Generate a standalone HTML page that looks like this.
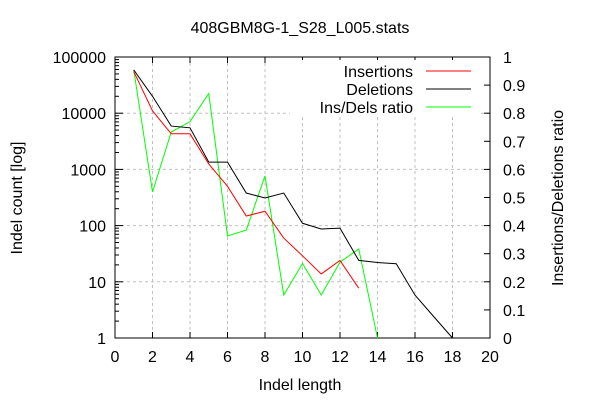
<!DOCTYPE html>
<html><head><meta charset="utf-8"><style>
body{margin:0;background:#fff}
svg{display:block;font-family:"Liberation Sans",sans-serif;font-size:16px}
</style></head><body>
<svg id="chart" width="600" height="400" viewBox="0 0 600 400">
<g id="grid"></g>
<g id="axes"></g>
<g id="series"></g>
<rect x="290" y="60" width="190" height="56" fill="#fff"/>
<text x="300" y="33" text-anchor="middle">408GBM8G-1_S28_L005.stats</text>
<text x="300" y="390" text-anchor="middle">Indel length</text>
<text transform="translate(22,198) rotate(-90)" text-anchor="middle">Indel count [log]</text>
<text transform="translate(563,198) rotate(-90)" text-anchor="middle">Insertions/Deletions ratio</text>
<g>
<g><text x="413" y="77" text-anchor="end">Insertions</text><line x1="426" y1="71" x2="471" y2="71" stroke="#f00"/></g>
<g><text x="413" y="95" text-anchor="end">Deletions</text><line x1="426" y1="89" x2="471" y2="89" stroke="#000"/></g>
<g><text x="413" y="113" text-anchor="end">Ins/Dels ratio</text><line x1="426" y1="107" x2="471" y2="107" stroke="#0f0"/></g>
</g>
</svg>
<script>
const insX=[1,2,3,4,5,6,7,8,9,10,11,12,13];
const insVals=[55000,11000,4300,4300,1250,500,148,180,60,29,13.8,24,7.7];
const delX=[1,2,3,4,5,6,7,8,9,10,11,12,13,14,15,16,17,18];
const delVals=[59000,20000,5900,5500,1350,1350,380,310,380,110,87,90,24,22,21,5.8,2.4,1];
const ratioX=[1,2,3,4,5,6,7,8,9,10,11,12,13,14];
const ratioVals=[0.954,0.52,0.733,0.77,0.87,0.363,0.384,0.577,0.153,0.265,0.153,0.27,0.317,0];
const xTicks=[0,2,4,6,8,10,12,14,16,18,20];
const yTicks=[1,10,100,1000,10000,100000];
const y2Ticks=[0,0.1,0.2,0.3,0.4,0.5,0.6,0.7,0.8,0.9,1];
const X0=115,X1=490,Y0=338,Y1=57;
const sx=v=>X0+(X1-X0)*v/20;
const sy=v=>Y0-(Y0-Y1)*Math.log10(v)/5;
const sy2=v=>Y0-(Y0-Y1)*v;
const NS="http://www.w3.org/2000/svg";
function mk(p,tag,at){const e=document.createElementNS(NS,tag);for(const k in at)e.setAttribute(k,at[k]);p.appendChild(e);return e;}
const grid=document.getElementById('grid'),axes=document.getElementById('axes'),ser=document.getElementById('series');
xTicks.forEach(t=>{
 if(t>0&&t<20){const g=mk(grid,'line',{x1:sx(t),x2:sx(t),y1:Y1,y2:Y0,stroke:'#c0c0c0','stroke-dasharray':'3,3'});
 
 }
 mk(axes,'line',{x1:sx(t),x2:sx(t),y1:Y0,y2:Y0-6,stroke:'#000'});
 mk(axes,'line',{x1:sx(t),x2:sx(t),y1:Y1,y2:Y1+6,stroke:'#000'});
 const tx=mk(axes,'text',{x:sx(t),y:Y0+24,'text-anchor':'middle'});tx.textContent=t;
 
 
});
yTicks.forEach(t=>{
 if(t>1&&t<100000){const g=mk(grid,'line',{x1:X0,x2:X1,y1:sy(t),y2:sy(t),stroke:'#c0c0c0','stroke-dasharray':'3,3'});
 
 }
 mk(axes,'line',{x1:X0,x2:X0+8,y1:sy(t),y2:sy(t),stroke:'#000'});
 const tx=mk(axes,'text',{x:X0-9,y:sy(t)+6,'text-anchor':'end'});tx.textContent=t;
 
 
 if(t<100000)for(let m=2;m<10;m++){const v=t*m;mk(axes,'line',{x1:X0,x2:X0+4,y1:sy(v),y2:sy(v),stroke:'#000'});}
});
y2Ticks.forEach(t=>{
 mk(axes,'line',{x1:X1,x2:X1-6,y1:sy2(t),y2:sy2(t),stroke:'#000'});
 const tx=mk(axes,'text',{x:X1+13,y:sy2(t)+6,'text-anchor':'start'});tx.textContent=t;
 
 
});
mk(axes,'rect',{x:X0,y:Y1,width:X1-X0,height:Y0-Y1,fill:'none',stroke:'#000'});
function line(xs,vs,f,col,name){
 const p=mk(ser,'polyline',{points:xs.map((x,i)=>sx(x)+','+f(vs[i])).join(' '),fill:'none',stroke:col,'stroke-width':1});
 
 
}
line(ratioX,ratioVals,sy2,'#0f0','ratio-line');
line(delX,delVals,sy,'#000','deletions-line');
line(insX,insVals,sy,'#f00','insertions-line');
</script>
</body></html>
